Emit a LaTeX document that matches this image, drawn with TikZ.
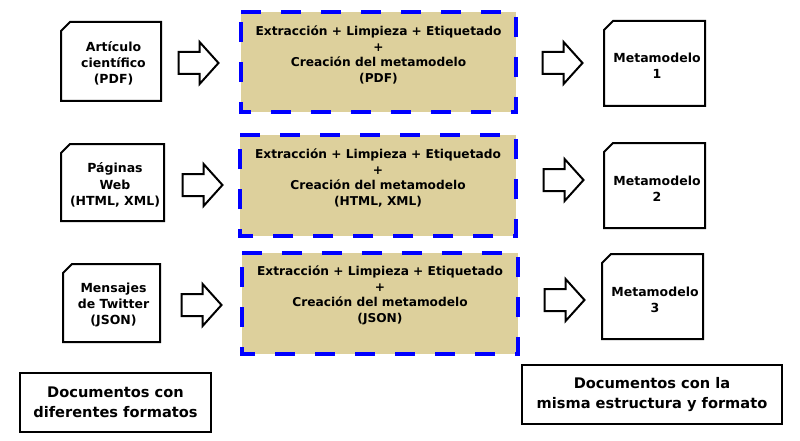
\documentclass[tikz,border=0pt]{standalone}
\usepackage{fontspec}
\setmainfont{DejaVu Sans}
\usetikzlibrary{shapes.arrows}
\definecolor{tan}{HTML}{DDD09C}
\tikzset{
  doc/.style={fill=white, outer sep=0pt, inner sep=0pt},
  doctext/.style={align=center, inner sep=0pt, font=\bfseries\fontsize{12.5}{16.3}\selectfont},
  docline/.style={draw=black, line width=2pt, line join=miter},
  proc/.style={fill=tan, outer sep=0pt, inner sep=0pt},
  proctext/.style={align=center, inner sep=0pt, font=\bfseries\fontsize{12.2}{15.5}\selectfont},
  procline/.style={draw=blue, line width=3.2pt, dash pattern=on 20pt off 20pt},
  barrow/.style={draw=black, line width=2pt, fill=white, single arrow, outer sep=0pt,
    minimum height=40pt, inner sep=10pt, single arrow head extend=10pt,
    single arrow tip angle=96, single arrow head indent=0pt, anchor=tail},
  legend/.style={draw=black, line width=2pt, fill=white, inner sep=0pt, align=center,
    font=\bfseries\fontsize{14.6}{19.5}\selectfont}
}
\newcommand\docoutline[1]{\draw[docline] ([xshift=9pt]#1.north west) -- (#1.north east) -- (#1.south east) -- (#1.south west) -- ([yshift=-9pt]#1.north west) -- cycle;}
\newcommand\procoutline[1]{\draw[procline] (#1.north west) -- (#1.north east) -- (#1.south east) -- (#1.south west) -- cycle;}
\begin{document}
\begin{tikzpicture}[x=1pt,y=-1pt]
\useasboundingbox (0,0) rectangle (800,441);
% row 1
\node[doc, minimum width=100pt, minimum height=79pt] (d1) at (111,61.5) {};
\docoutline{d1}
\node[doctext] (dt1) at (113.5,63.5) {Artículo\\científico\\(PDF)};
\node[barrow] (a1) at (178.5,63) {};
\node[proc, minimum width=275pt, minimum height=100pt] (p1) at (378.5,62) {};
\procoutline{p1}
\node[proctext] (pt1) at (378.5,55) {Extracción + Limpieza + Etiquetado\\+\\Creación del metamodelo\\(PDF)};
\node[barrow] (b1) at (542.5,63) {};
\node[doc, minimum width=101pt, minimum height=85pt] (m1) at (654.5,63.5) {};
\docoutline{m1}
\node[doctext] (mt1) at (657,66) {Metamodelo\\1};
% row 2
\node[doc, minimum width=103pt, minimum height=77pt] (d2) at (112.5,182.5) {};
\docoutline{d2}
\node[doctext] (dt2) at (115,185) {Páginas\\Web\\(HTML, XML)};
\node[barrow] (a2) at (182.5,185) {};
\node[proc, minimum width=276pt, minimum height=101pt] (p2) at (378,185.5) {};
\procoutline{p2}
\node[proctext] (pt2) at (378,178) {Extracción + Limpieza + Etiquetado\\+\\Creación del metamodelo\\(HTML, XML)};
\node[barrow] (b2) at (543.5,180) {};
\node[doc, minimum width=101pt, minimum height=85pt] (m2) at (654.5,185.5) {};
\docoutline{m2}
\node[doctext] (mt2) at (657,188.5) {Metamodelo\\2};
% row 3
\node[doc, minimum width=97pt, minimum height=78pt] (d3) at (111.5,303) {};
\docoutline{d3}
\node[doctext] (dt3) at (113.5,305) {Mensajes\\de Twitter\\(JSON)};
\node[barrow] (a3) at (181.5,305) {};
\node[proc, minimum width=276pt, minimum height=101pt] (p3) at (380,303.5) {};
\procoutline{p3}
\node[proctext] (pt3) at (380,295.5) {Extracción + Limpieza + Etiquetado\\+\\Creación del metamodelo\\(JSON)};
\node[barrow] (b3) at (544.5,300) {};
\node[doc, minimum width=101pt, minimum height=85pt] (m3) at (652.5,296.5) {};
\docoutline{m3}
\node[doctext] (mt3) at (655,300) {Metamodelo\\3};
% legends
\node[legend, minimum width=191pt, minimum height=59pt] (l1) at (115.5,402.5) {Documentos con\\diferentes formatos};
\node[legend, minimum width=260pt, minimum height=59pt] (l2) at (652,394.5) {Documentos con la\\misma estructura y formato};
\end{tikzpicture}
\end{document}
